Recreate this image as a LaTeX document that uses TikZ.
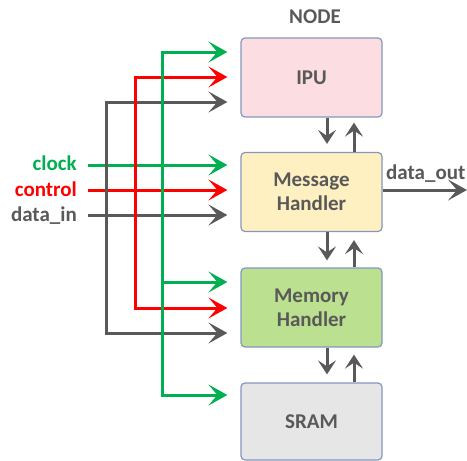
\documentclass[tikz,border=0pt]{standalone}
\usepackage{fontspec}
\setmainfont{Carlito}
\usetikzlibrary{arrows.meta}
\definecolor{cgreen}{HTML}{00B050}
\definecolor{cred}{HTML}{FF0000}
\definecolor{cgray}{HTML}{595959}
\definecolor{cborder}{HTML}{8497C0}
\definecolor{fipu}{HTML}{FCDDE2}
\definecolor{fmsg}{HTML}{FFF0C2}
\definecolor{fmem}{HTML}{BBE090}
\definecolor{fsram}{HTML}{E6E6E6}
\begin{document}
\begin{tikzpicture}[x=1pt,y=-1pt,
  box/.style={draw=cborder, line width=1.2pt, rounded corners=4pt, minimum width=141pt,
    minimum height=79pt, inner sep=0pt, align=center, text=cgray,
    font=\fontsize{21}{24}\selectfont\bfseries},
  lbl/.style={inner sep=0pt, font=\fontsize{21}{24}\selectfont\bfseries},
  bus/.style={line width=3pt, line cap=rect, -{Stealth[length=19pt,width=21pt,inset=9pt]}, shorten >=13pt},
  varr/.style={line width=3pt, cgray, -{Stealth[length=14pt,width=18pt,inset=6pt]}}
]
\useasboundingbox (0,0) rectangle (467,461);

\node[box, fill=fipu] (ipu) at (311.5,77.5) {IPU};
\node[box, fill=fmsg] (mh) at (311.5,192) {Message\\Handler};
\node[box, fill=fmem] (mem) at (311.5,307.5) {Memory\\Handler};
\node[box, fill=fsram, minimum height=77pt] (sram) at (311.5,421.5) {SRAM};

\node[lbl, text=cgray, anchor=base] (title) at (315,23) {NODE};
\node[lbl, text=cgreen, anchor=base east] (clk) at (77,170) {clock};
\node[lbl, text=cred, anchor=base east] (ctl) at (77,196) {control};
\node[lbl, text=cgray, anchor=base east] (din) at (77,221) {data\_in};
\node[lbl, text=cgray, anchor=base west] (dout) at (386,179) {data\_out};
\coordinate (outend) at (467,190);

% input lines
\draw[bus, cgreen, line cap=butt] (88,165) -- (mh.west |- 0,165);
\draw[bus, cred, line cap=butt] (88,190) -- (mh.west |- 0,190);
\draw[bus, cgray, line cap=butt] (88,215) -- (mh.west |- 0,215);

% gray bus
\draw[bus, cgray] (106,333) -- (106,102) -- (ipu.west |- 0,102);
\draw[bus, cgray] (106,333) -- (mem.west |- 0,333);
% red bus
\draw[bus, cred] (135,308) -- (135,77) -- (ipu.west |- 0,77);
\draw[bus, cred] (135,308) -- (mem.west |- 0,308);
% green bus
\draw[bus, cgreen] (162,395) -- (162,52) -- (ipu.west |- 0,52);
\draw[bus, cgreen] (162,282) -- (mem.west |- 0,282);
\draw[bus, cgreen] (162,395) -- (sram.west |- 0,395);

% vertical links
\draw[varr, shorten >=8pt] (ipu.south -| 327,0) -- (mh.north -| 327,0);
\draw[varr, shorten >=5pt] (mh.north -| 354,0) -- (ipu.south -| 354,0);
\draw[varr, shorten >=7pt] (mh.south -| 327,0) -- (mem.north -| 327,0);
\draw[varr, shorten >=8pt] (mem.north -| 354,0) -- (mh.south -| 354,0);
\draw[varr, shorten >=8pt] (mem.south -| 327,0) -- (sram.north -| 327,0);
\draw[varr, shorten >=7pt] (sram.north -| 354,0) -- (mem.south -| 354,0);

% output
\draw[varr, -{Stealth[length=19pt,width=21pt,inset=9pt]}] (mh.east |- outend) -- (outend);
\end{tikzpicture}
\end{document}
